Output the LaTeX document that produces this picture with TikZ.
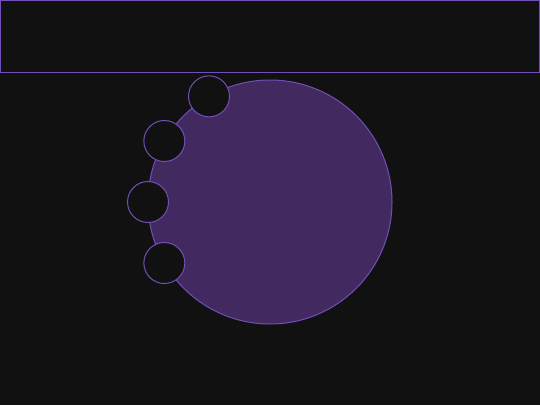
\documentclass[tikz,border=0pt]{standalone}
\usepackage{xcolor}
\usepackage{tikz}
\usetikzlibrary{calc}
\definecolor{bgdark}{HTML}{111111}
\definecolor{lilacline}{HTML}{7050B8}
\definecolor{plumfill}{HTML}{42295F}

\begin{document}
\begin{tikzpicture}[x=1pt, y=-1pt, line width=1pt]
	\pgfmathsetmacro{\bigr}{122}
	\pgfmathsetmacro{\smallr}{20.5}
	\fill[bgdark] (0,0) rectangle (540,405);
	\useasboundingbox (0,0) rectangle (540,405);
	% top bar
	\draw[lilacline, fill=bgdark] (0.5,0.5) rectangle (539.5,72);
	% big disc
	\coordinate (hub) at (270,202);
	\draw[lilacline, fill=plumfill] (hub) circle (\bigr);
	% small discs on the rim
	\foreach \ang in {120,150,180,210}
		\draw[lilacline, fill=bgdark] ($(hub)+({\bigr*cos(\ang)},{-\bigr*sin(\ang)})$) circle (\smallr);
\end{tikzpicture}
\end{document}
